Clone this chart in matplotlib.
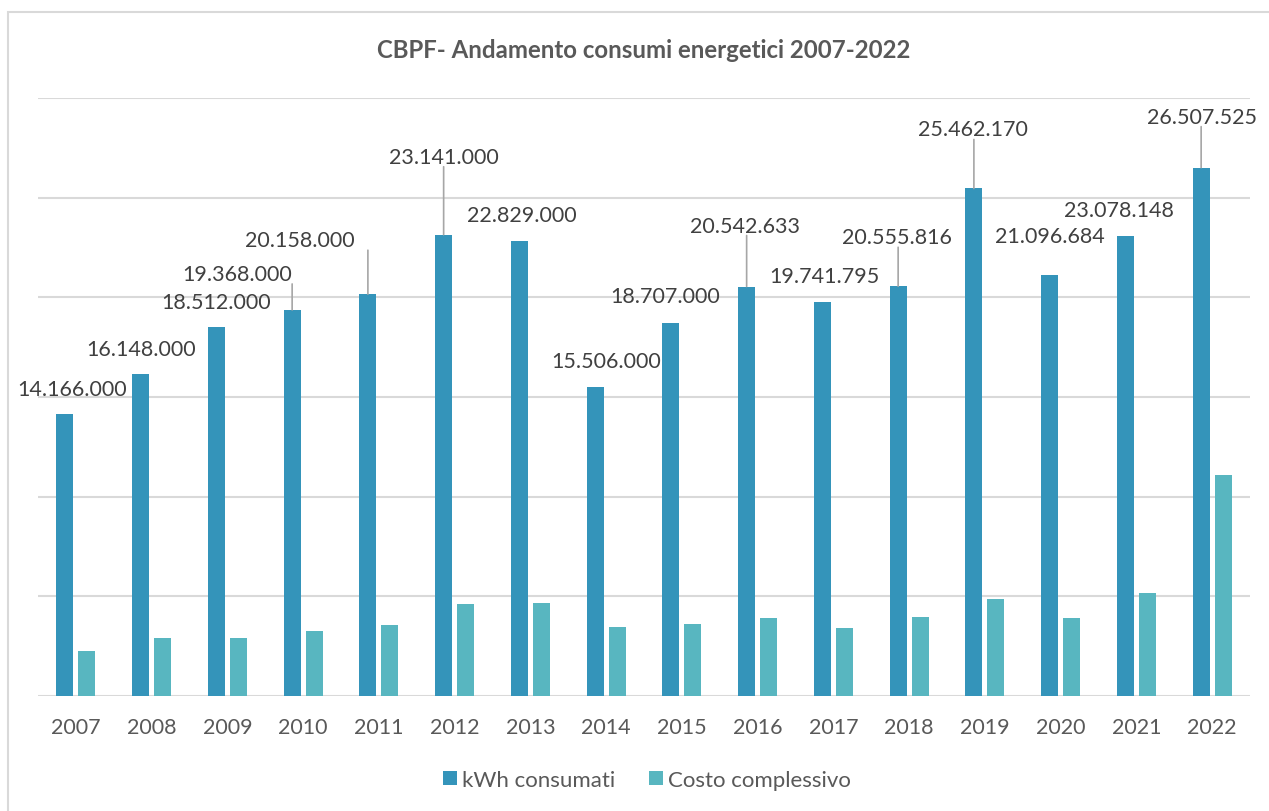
import matplotlib.pyplot as plt
from matplotlib.patches import Rectangle
import numpy as np

# dati
anni = ['2007', '2008', '2009', '2010', '2011', '2012', '2013', '2014',
        '2015', '2016', '2017', '2018', '2019', '2020', '2021', '2022']
kwh = [14166000, 16148000, 18512000, 19368000, 20158000, 23141000, 22829000, 15506000,
       18707000, 20542633, 19741795, 20555816, 25462170, 21096684, 23078148, 26507525]
costo = [2260000, 2920000, 2890000, 3260000, 3550000, 4610000, 4650000, 3460000,
         3630000, 3890000, 3430000, 3980000, 4880000, 3910000, 5170000, 11100000]

# posizione etichette (dx, dy in pixel rispetto alla cima della barra) e linee guida
etich_off = [(7, 25), (0, 25), (0, 25), (-55, 36), (-68, 54), (0, 78), (2, 26), (11, 26),
             (-6, 27), (-2, 61), (2, 26), (-1, 49), (-1, 59), (0, 39), (-6, 26), (1, 51)]
guida = [False, False, False, True, True, True, False, False,
         False, True, False, True, True, False, False, True]

BLU = '#3494BA'
VERDE = '#58B6C0'
GRIGIO = '#595959'
FONT = 'Lato'


def main():
    plt.rcParams['font.family'] = [FONT, 'DejaVu Sans']
    fig = plt.figure(figsize=(12.69, 8.12), dpi=100)
    fig.patches.append(Rectangle((8 / 1269, -0.1), 1.2, (812 - 13) / 812 + 0.1,
                                 transform=fig.transFigure, fill=False,
                                 edgecolor='#D9D9D9', linewidth=1.5))
    ax = fig.add_axes([38 / 1269, 1 - 697 / 812, (1250 - 38) / 1269, (697 - 99) / 812])

    x = np.arange(len(anni))
    w = 0.225
    ax.bar(x - 0.145, kwh, w, color=BLU, label='kWh consumati', zorder=3)
    ax.bar(x + 0.145, costo, w, color=VERDE, label='Costo complessivo', zorder=3)

    ax.set_xlim(-0.5, len(anni) - 0.5)
    ax.set_ylim(0, 30000000)
    ax.set_yticks(np.arange(0, 30000001, 5000000))
    ax.yaxis.grid(True, color='#D9D9D9', linewidth=1.5, zorder=0)
    ax.tick_params(axis='y', left=False, labelleft=False)
    ax.tick_params(axis='x', length=0, labelsize=15.5, labelcolor=GRIGIO, pad=15)
    ax.set_xticks(x)
    ax.set_xticklabels(anni)
    for s in ax.spines.values():
        s.set_visible(False)

    k = 72 / 100  # pixel -> punti
    for i, v in enumerate(kwh):
        dx, dy = etich_off[i]
        testo = f"{v:,}".replace(',', '.')
        ax.annotate(testo, (x[i] - 0.145, v), xytext=(dx * k, dy * k),
                    textcoords='offset points', ha='center', va='center',
                    fontsize=15.5, color='#404040')
        if guida[i]:
            ax.annotate('', (x[i] - 0.145, v), xytext=(0, (dy - 10) * k),
                        textcoords='offset points',
                        arrowprops=dict(arrowstyle='-', color='#A6A6A6', lw=1.2,
                                        shrinkA=0, shrinkB=0))

    fig.text(644 / 1269, 1 - 51 / 812, 'CBPF- Andamento consumi energetici 2007-2022',
             ha='center', va='center', fontsize=17.3, fontweight='bold', color=GRIGIO)

    fig.legend(loc='center', bbox_to_anchor=(647 / 1269, 1 - 781 / 812), ncol=2,
               frameon=False, fontsize=16, labelcolor=GRIGIO, handlelength=0.63,
               handleheight=0.63, handletextpad=0.25, columnspacing=1.5)

    fig.savefig('out.png', dpi=100)


if __name__ == '__main__':
    main()
